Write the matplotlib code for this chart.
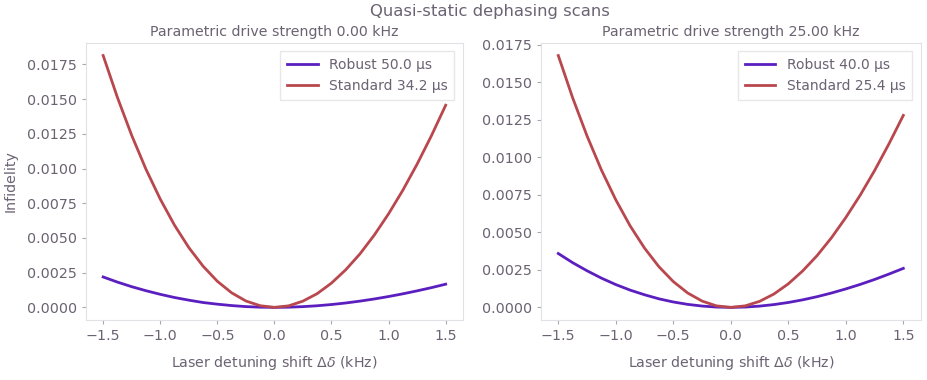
import numpy as np
import matplotlib
matplotlib.use("Agg")
import matplotlib.pyplot as plt

# detuning shift (kHz)
detuning = [-1.5, -1.375, -1.25, -1.125, -1.0, -0.875, -0.75, -0.625, -0.5, -0.375, -0.25, -0.125, 0.0,
            0.125, 0.25, 0.375, 0.5, 0.625, 0.75, 0.875, 1.0, 1.125, 1.25, 1.375, 1.5]

# drive strength 0.00 kHz
robust_0 = [0.00219, 0.00182, 0.00149, 0.00120, 0.00094, 0.00071, 0.00052, 0.00035, 0.00023, 0.00013, 0.000055, 0.000013, 0.0,
            0.000013, 0.000053, 0.000117, 0.000205, 0.000316, 0.000451, 0.000605, 0.000781, 0.000976, 0.00119, 0.00142, 0.00167]
standard_0 = [0.01814, 0.01512, 0.01239, 0.00995, 0.00780, 0.00592, 0.00431, 0.00297, 0.00188, 0.00105, 0.00046, 0.00012, 0.0,
              0.00011, 0.00045, 0.00099, 0.00175, 0.00271, 0.00386, 0.00521, 0.00674, 0.00844, 0.01032, 0.01236, 0.01456]

# drive strength 25.00 kHz
robust_25 = [0.00359, 0.00298, 0.00244, 0.00195, 0.00152, 0.00115, 0.00084, 0.00057, 0.00036, 0.00020, 0.000088, 0.000021, 0.0,
             0.000021, 0.000084, 0.000186, 0.000326, 0.000502, 0.000712, 0.000956, 0.00123, 0.00153, 0.00186, 0.00222, 0.00260]
standard_25 = [0.01679, 0.01397, 0.01143, 0.00916, 0.00717, 0.00543, 0.00395, 0.00271, 0.00172, 0.00096, 0.00042, 0.00010, 0.0,
               0.00010, 0.00040, 0.00089, 0.00157, 0.00243, 0.00345, 0.00464, 0.00599, 0.00748, 0.00912, 0.01090, 0.01280]

drive_strengths = [0.0, 25.0]
robust_times = [50.0, 40.0]
standard_times = [34.2, 25.4]

text_col = '#6b6272'
edge_col = '#e2e2e6'
robust_col = '#5b1fc0'
standard_col = '#b9474e'

plt.rcParams['font.family'] = ['DejaVu Sans']
plt.rcParams['text.color'] = text_col
plt.rcParams['axes.labelcolor'] = text_col
plt.rcParams['xtick.color'] = text_col
plt.rcParams['ytick.color'] = text_col

fig = plt.figure(figsize=(9.28, 3.8), dpi=100)
ax1 = fig.add_axes([0.0927, 0.158, 0.406, 0.729])
ax2 = fig.add_axes([0.583, 0.158, 0.409, 0.729])

series = [(ax1, robust_0, standard_0), (ax2, robust_25, standard_25)]
for i, (ax, rob, std) in enumerate(series):
    ax.plot(detuning, rob, color=robust_col, lw=2, label=f'Robust {robust_times[i]:.1f} µs')
    ax.plot(detuning, std, color=standard_col, lw=2, label=f'Standard {standard_times[i]:.1f} µs')
    ax.set_title(f'Parametric drive strength {drive_strengths[i]:.2f} kHz', fontsize=10.2, pad=5)
    ax.set_xlabel(r'Laser detuning shift $\Delta\delta$ (kHz)', fontsize=10.2, labelpad=8)
    ax.set_xticks([-1.5, -1.0, -0.5, 0.0, 0.5, 1.0, 1.5])
    ax.tick_params(labelsize=10.3, length=3, color='#a8a8b0')
    for s in ax.spines.values():
        s.set_color(edge_col)
    leg = ax.legend(loc='upper right', fontsize=10, frameon=True, fancybox=False,
                    handlelength=2.2, borderaxespad=0.6, borderpad=0.5)
    leg.get_frame().set_edgecolor(edge_col)
    for t in leg.get_texts():
        t.set_color(text_col)

ax1.set_ylabel('Infidelity', fontsize=10.2, labelpad=7)
fig.suptitle('Quasi-static dephasing scans', x=0.528, y=0.99, fontsize=11.8)

fig.savefig('out.png', dpi=100)
